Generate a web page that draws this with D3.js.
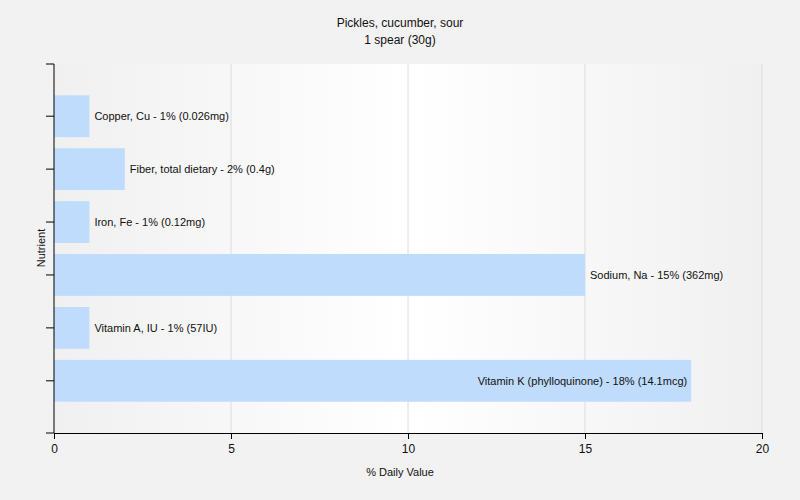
<!DOCTYPE html>
<html><head><meta charset="utf-8">
<script src="https://cdn.jsdelivr.net/npm/d3@7"></script>
<style>body{margin:0;background:#f2f2f2;} svg{display:block;font-family:"Liberation Sans",Arial,sans-serif;}</style>
</head><body>
<svg id="c" width="800" height="500"></svg>
<script>
const nutrients = ["Copper, Cu","Fiber, total dietary","Iron, Fe","Sodium, Na","Vitamin A, IU","Vitamin K (phylloquinone)"];
const values = [1,2,1,15,1,18];
const amounts = ["0.026mg","0.4g","0.12mg","362mg","57IU","14.1mcg"];
const xTicks = [0,5,10,15,20];
const titleLines = ["Pickles, cucumber, sour","1 spear (30g)"];

const svg = d3.select("#c");
const L=54,R=762,T=64,B=433;
const x = d3.scaleLinear().domain([0,20]).range([L,R]);
const y = d3.scaleBand().domain(nutrients).range([T+26,B-26]).paddingInner(0.21).paddingOuter(0.1);

const defs = svg.append("defs");
const g = defs.append("linearGradient").attr("id","bg").attr("x1","0").attr("x2","1").attr("y1","0").attr("y2","0");
g.append("stop").attr("offset","0").attr("stop-color","#f0f0f0");
g.append("stop").attr("offset","0.5").attr("stop-color","#ffffff");
g.append("stop").attr("offset","1").attr("stop-color","#f0f0f0");

svg.append("rect").attr("width",800).attr("height",500).attr("fill","#f2f2f2");
svg.append("rect").attr("x",L).attr("y",T).attr("width",R-L).attr("height",B-T).attr("fill","url(#bg)");

svg.selectAll(".grid").data(xTicks.slice(1)).enter().append("line")
  .attr("x1",d=>x(d)).attr("x2",d=>x(d)).attr("y1",T).attr("y2",B)
  .attr("stroke","#dcdcdc").attr("stroke-width",1);

svg.selectAll(".bar").data(nutrients).enter().append("rect")
  .attr("x",x(0)).attr("y",d=>y(d)).attr("height",y.bandwidth())
  .attr("width",(d,i)=>x(values[i])-x(0)).attr("fill","#bfdcfc");

svg.selectAll(".lbl").data(nutrients).enter().append("text")
  .attr("y",d=>y(d)+y.bandwidth()/2).attr("dy","0.35em")
  .attr("font-size",11).attr("fill","#111")
  .each(function(d,i){
    const t=d3.select(this);
    t.text(`${d} - ${values[i]}% (${amounts[i]})`);
    if(values[i]>16){t.attr("x",x(values[i])-4).attr("text-anchor","end");}
    else{t.attr("x",x(values[i])+5).attr("text-anchor","start");}
  });

const xa = svg.append("g").attr("transform",`translate(0,${B})`)
  .call(d3.axisBottom(x).tickValues(xTicks).tickSize(6).tickFormat(d3.format("d")));
xa.select(".domain").attr("stroke","#000");
xa.selectAll("text").attr("font-size",12).attr("fill","#111").attr("dy","0.9em");
xa.attr("font-family",null);

const ya = svg.append("g").attr("transform",`translate(${L},0)`)
  .call(d3.axisLeft(y).tickSize(8).tickFormat(""));
ya.select(".domain").attr("d",`M-8,${T}H0V${B}H-8`).attr("stroke","#000");
ya.attr("font-family",null);

svg.append("text").attr("x",400).attr("y",476).attr("text-anchor","middle").attr("font-size",11).attr("fill","#111").text("% Daily Value");
svg.append("text").attr("transform",`translate(45,248) rotate(-90)`).attr("text-anchor","middle").attr("font-size",11).attr("fill","#111").text("Nutrient");

svg.selectAll(".title").data(titleLines).enter().append("text")
  .attr("x",400).attr("y",(d,i)=>27+i*17).attr("text-anchor","middle").attr("font-size",12).attr("fill","#111").text(d=>d);
</script>
</body></html>
